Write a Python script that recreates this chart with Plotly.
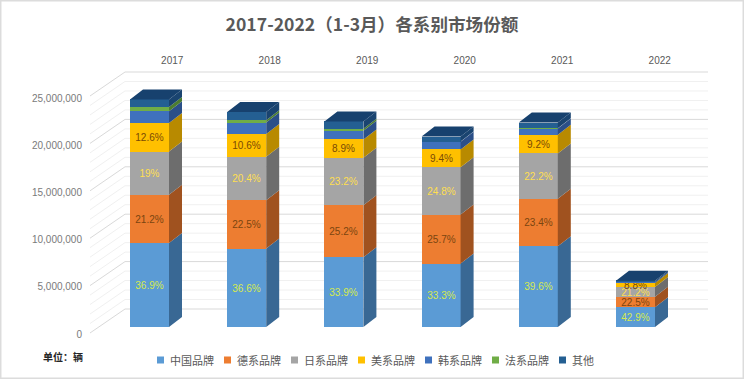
import plotly.graph_objects as go

years = ["2017", "2018", "2019", "2020", "2021", "2022"]
china = [8860000, 8270000, 7360000, 6690000, 8510000, 2090000]
german = [5090000, 5090000, 5470000, 5170000, 5030000, 1100000]
japan = [4560000, 4610000, 5030000, 4980000, 4770000, 1030000]
usa = [3020000, 2400000, 1930000, 1890000, 1980000, 430000]
korea = [1220000, 1200000, 920000, 800000, 660000, 100000]
france = [460000, 250000, 200000, 30000, 20000, 10000]
other = [800000, 870000, 770000, 530000, 600000, 110000]

china_lbl = ["36.9%", "36.6%", "33.9%", "33.3%", "39.6%", "42.9%"]
german_lbl = ["21.2%", "22.5%", "25.2%", "25.7%", "23.4%", "22.5%"]
japan_lbl = ["19%", "20.4%", "23.2%", "24.8%", "22.2%", "21.2%"]
usa_lbl = ["12.6%", "10.6%", "8.9%", "9.4%", "9.2%", "8.8%"]

names = ["中国品牌", "德系品牌", "日系品牌", "美系品牌", "韩系品牌", "法系品牌", "其他"]
values = [china, german, japan, usa, korea, france, other]
labels = [china_lbl, german_lbl, japan_lbl, usa_lbl, None, None, None]
y_ticks = [0, 5000000, 10000000, 15000000, 20000000, 25000000]

front = ["#5b9bd5", "#ed7d31", "#a5a5a5", "#ffc000", "#3f71bd", "#70ad47", "#245f92"]
side = ["#396894", "#a0521f", "#6d6d6d", "#b88a00", "#2b4f88", "#4c7d30", "#1a4470"]
top_color = "#17416e"
label_color = ["#d6ea4e", "#7a4510", "#ffdf50", "#7a4a05", None, None, None]

W, H = 744, 379
PX_X = 97.2            # pixels per category
PX_Y = 47.4 / 5000000  # pixels per unit
X0, Y0 = 149.5, 327    # pixel of first bar centre / value zero
BAR_W = 39 / PX_X
DX, DY = 13 / PX_X, 10 / PX_Y

def xd(p):
    return (p - X0) / PX_X

def yd(p):
    return (Y0 - p) / PX_Y

FONT = "Noto Sans CJK SC, Noto Sans, sans-serif"
fig = go.Figure()

for k, name in enumerate(names):
    base = [0.0] * 6
    for j in range(k):
        base = [b + v for b, v in zip(base, values[j])]
    fig.add_trace(go.Bar(
        x=list(range(6)), y=values[k], width=BAR_W, name=name,
        marker=dict(color=front[k], line=dict(width=0)),
        text=labels[k] if labels[k] else None,
        textposition="inside" if labels[k] else "none",
        insidetextanchor="middle", textangle=0, constraintext="none",
        textfont=dict(family="Liberation Sans, sans-serif", size=10,
                      color=label_color[k] or "#000000"),
        showlegend=False, hoverinfo="name+y", cliponaxis=False,
    ))
    sx, sy = [], []
    for i in range(6):
        r = i + BAR_W / 2
        b, t = base[i], base[i] + values[k][i]
        sx += [r, r + DX, r + DX, r, r, None]
        sy += [b, b + DY, t + DY, t, b, None]
    fig.add_trace(go.Scatter(x=sx, y=sy, mode="lines", fill="toself", fillcolor=side[k],
                             line=dict(width=0, color=side[k]), showlegend=False, hoverinfo="skip"))

totals = [sum(v[i] for v in values) for i in range(6)]
tx, ty = [], []
for i, t in enumerate(totals):
    l, r = i - BAR_W / 2, i + BAR_W / 2
    tx += [l, l + DX, r + DX, r, l, None]
    ty += [t, t + DY, t + DY, t, t, None]
fig.add_trace(go.Scatter(x=tx, y=ty, mode="lines", fill="toself", fillcolor=top_color,
                         line=dict(width=0, color=top_color), showlegend=False, hoverinfo="skip"))

# secondary axes that carry the tick labels, placed like the reference's front wall
fig.add_trace(go.Scatter(x=list(range(6)), y=[None] * 6, xaxis="x2", yaxis="y2",
                         mode="markers", marker=dict(opacity=0), showlegend=False, hoverinfo="skip"))

# back wall and side wall gridlines
shapes = []
back_l, back_r, side_l = xd(125), xd(708), xd(90)
back_off, side_off = 18 / PX_Y, -6 / PX_Y
for g in range(0, 26):
    v = g * 1000000
    major = g % 5 == 0
    col = "#d9d9d9" if major else "#f0f0f0"
    shapes.append(dict(type="line", layer="below", xref="x", yref="y", x0=back_l, x1=back_r,
                       y0=v + back_off, y1=v + back_off, line=dict(color=col, width=1)))
    shapes.append(dict(type="line", layer="below", xref="x", yref="y", x0=side_l, x1=back_l,
                       y0=v + side_off, y1=v + back_off, line=dict(color=col, width=1)))
shapes.append(dict(type="rect", xref="paper", yref="paper", x0=0.001, x1=0.999, y0=0.002, y1=0.998,
                   line=dict(color="#dcdcdc", width=1.5), layer="below"))

# legend
annotations = []
for k, name in enumerate(names):
    lx = 157 + 67 * k
    shapes.append(dict(type="rect", xref="paper", yref="paper",
                       x0=lx / W, x1=(lx + 7) / W, y0=1 - 363.5 / H, y1=1 - 356.5 / H,
                       fillcolor=front[k], line=dict(width=0)))
    annotations.append(dict(xref="paper", yref="paper", x=(lx + 11) / W, y=1 - 360 / H,
                            text=name, showarrow=False, xanchor="left", yanchor="middle",
                            font=dict(family=FONT, size=11, color="#595959")))
annotations.append(dict(xref="paper", yref="paper", x=41 / W, y=1 - 356 / H, text="<b>单位：辆</b>",
                        showarrow=False, xanchor="left", yanchor="middle",
                        font=dict(family=FONT, size=10, color="#262626")))

fig.update_layout(
    width=W, height=H, margin=dict(l=0, r=0, t=0, b=0),
    paper_bgcolor="white", plot_bgcolor="rgba(0,0,0,0)",
    barmode="stack", bargap=0, showlegend=False, shapes=shapes, annotations=annotations,
    title=dict(text="<b>2017-2022（1-3月）各系别市场份额</b>", x=0.5, xanchor="center",
               y=1 - 25 / H, yanchor="middle", font=dict(family=FONT, size=17.6, color="#595959")),
    xaxis=dict(range=[xd(0), xd(W)], visible=False, fixedrange=True),
    yaxis=dict(range=[yd(H), yd(0)], visible=False, fixedrange=True),
    xaxis2=dict(overlaying="x", side="top", anchor="free", position=1 - 66 / H,
                range=[(0 - 172.2) / 97.5, (W - 172.2) / 97.5], tickvals=list(range(6)), ticktext=years,
                showgrid=False, zeroline=False, showline=False, ticks="", fixedrange=True,
                tickfont=dict(family="Liberation Sans, sans-serif", size=10, color="#595959")),
    yaxis2=dict(overlaying="y", side="left", anchor="free", position=82 / W,
                range=[(334 - H) / 47.2 * 5000000, 334 / 47.2 * 5000000], tickvals=y_ticks,
                tickformat=",d", showgrid=False, zeroline=False, showline=False, ticks="", fixedrange=True,
                tickfont=dict(family="Liberation Sans, sans-serif", size=10, color="#7a7a7a")),
)

fig.write_html("out.html", config={"displayModeBar": False},
               post_script="document.body.style.margin='0';document.body.style.overflow='hidden';")
